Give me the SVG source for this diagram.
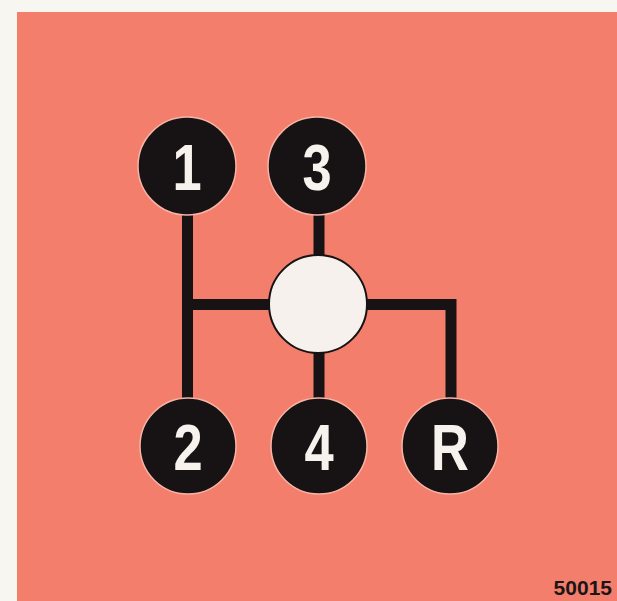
<svg xmlns="http://www.w3.org/2000/svg" width="617" height="601" viewBox="0 0 617 601">
<style>
.knob{fill:#171314;stroke:#f6b4a6;stroke-width:1.5}
.lbl{font-family:"Liberation Sans","DejaVu Sans",sans-serif;font-weight:bold;font-size:64px;fill:#f7f2ee;text-anchor:middle}
.ln{stroke:#171314;stroke-width:11;fill:none;stroke-linejoin:miter;stroke-linecap:butt}
</style>
<rect x="0" y="0" width="617" height="601" fill="#f8f6f1"/>
<rect x="17" y="12" width="600" height="589" fill="#f47e6c"/>
<g id="connectors">
<path class="ln" d="M187.5 200 V420"/>
<path class="ln" d="M187.5 304.5 H280"/>
<path class="ln" d="M319 200 V270"/>
<path class="ln" d="M319 340 V420"/>
<path class="ln" d="M355 304.5 H451 V420"/>
</g>
<g id="neutral"><circle cx="318" cy="304" r="49" fill="#f7f1ee" stroke="#171314" stroke-width="2"/></g>
<g id="gear1"><circle class="knob" cx="187" cy="166" r="49"/><text class="lbl" transform="translate(187 190) scale(0.82 1)">1</text></g>
<g id="gear3"><circle class="knob" cx="317" cy="166" r="49"/><text class="lbl" transform="translate(317 190) scale(0.82 1)">3</text></g>
<g id="gear2"><circle class="knob" cx="188" cy="446" r="48"/><text class="lbl" transform="translate(188 470) scale(0.82 1)">2</text></g>
<g id="gear4"><circle class="knob" cx="319" cy="446" r="48"/><text class="lbl" transform="translate(319 470) scale(0.82 1)">4</text></g>
<g id="gearR"><circle class="knob" cx="450" cy="446" r="48"/><text class="lbl" transform="translate(450 470) scale(0.82 1)">R</text></g>
<text x="612" y="595" font-family="Liberation Sans, sans-serif" font-weight="bold" font-size="21" fill="#1c1516" text-anchor="end">50015</text>
</svg>
